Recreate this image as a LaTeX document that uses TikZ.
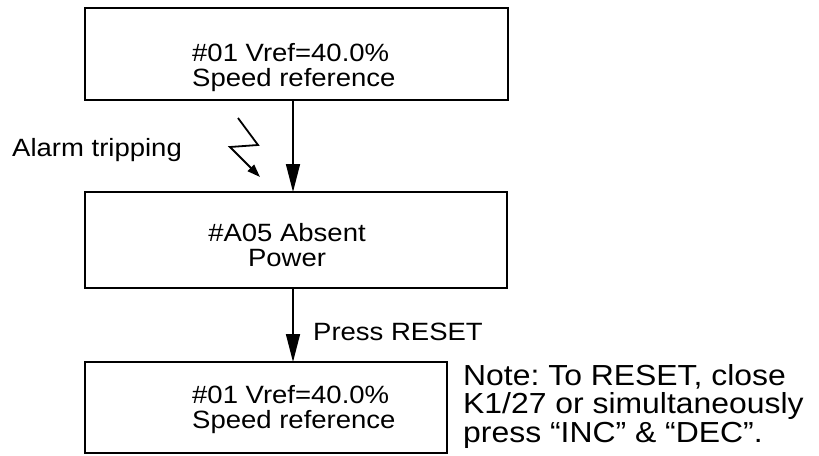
\documentclass[tikz,border=0pt]{standalone}
\usepackage{fontspec}
\setmainfont{Liberation Sans}[FakeStretch=1.1]
\usetikzlibrary{arrows.meta}
\frenchspacing
\begin{document}
\begin{tikzpicture}[x=1pt,y=-1pt,
  boxline/.style={line width=1.6pt},
  flow/.style={line width=1.6pt,-{Triangle[length=28pt,width=14pt]}},
  bolt/.style={line width=1.8pt,-{Triangle[length=13pt,width=9pt]}},
  txt/.style={inner sep=0pt,font=\fontsize{25}{25}\selectfont},
  notetxt/.style={inner sep=0pt,align=left,font=\fontsize{29}{28.5}\selectfont}]
\useasboundingbox (0,0) rectangle (819,455);
% boxes
\coordinate (b1nw) at (85,8);   \coordinate (b1se) at (508,100);
\coordinate (b2nw) at (85,192); \coordinate (b2se) at (507,288);
\coordinate (b3nw) at (85,362); \coordinate (b3se) at (447,453);
\draw[boxline] (b1nw) rectangle (b1se);
\draw[boxline] (b2nw) rectangle (b2se);
\draw[boxline] (b3nw) rectangle (b3se);
\node[txt,align=left,anchor=west] (t1) at (192,67.5) {\#01 Vref=40.0\%\\Speed reference};
\node[txt,align=center] (t2) at (287,245) {\#A05 Absent\\Power};
\node[txt,align=left,anchor=west] (t3) at (192,410) {\#01 Vref=40.0\%\\Speed reference};
% arrows
\coordinate (a1s) at (293,100); \coordinate (a1e) at (293,192);
\coordinate (a2s) at (293,288); \coordinate (a2e) at (293,362);
\draw[flow] (a1s) -- (a1e);
\draw[flow] (a2s) -- (a2e);
% lightning bolt
\coordinate (l1) at (238,118); \coordinate (l2) at (258,145);
\coordinate (l3) at (230,147); \coordinate (l4) at (260,177);
\draw[bolt] (l1) -- (l2) -- (l3) -- (l4);
\node[txt,anchor=west] (alarm) at (12,150) {Alarm tripping};
\node[txt,anchor=west] (press) at (313,332) {Press RESET};
\node[notetxt,anchor=west] (note) at (463,406) {Note: To RESET, close\\K1/27 or simultaneously\\press “INC” \& “DEC”.};
\end{tikzpicture}
\end{document}
